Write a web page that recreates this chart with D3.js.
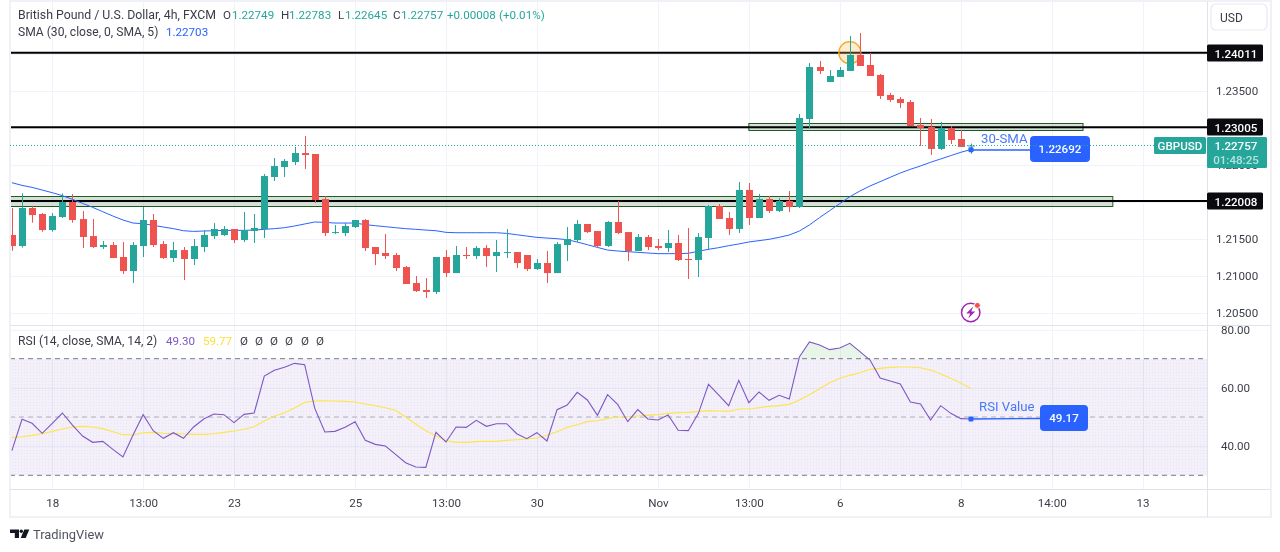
<!DOCTYPE html><html lang="en">
<head>
  <meta charset="UTF-8">
  <title>GBPUSD 4h</title>
  <script src="https://d3js.org/d3.v7.min.js"></script>
  <style>
    body { margin: 0; background: white; }
    svg { display: block; font-family: Roboto, sans-serif; font-size: 11.6px; }
    .axis text { fill: #3a3d47; font-family: Roboto, sans-serif; font-size: 11.6px; }
    .axis .domain, .axis line { display: none; }
  </style>
</head>
<body>
<svg width="1280" height="552"></svg>
<script>
const opens = [1.21547,1.21398,1.21912,1.21831,1.21614,1.21790,1.21993,1.21763,1.21533,1.21385,1.21412,1.21250,1.21060,1.21398,1.21750,1.21425,1.21236,1.21344,1.21223,1.21385,1.21533,1.21547,1.21628,1.21479,1.21601,1.21628,1.22331,1.22466,1.22534,1.22655,1.22642,1.22033,1.21574,1.21574,1.21655,1.21750,1.21385,1.21304,1.21277,1.21114,1.20898,1.20804,1.20777,1.21250,1.21033,1.21277,1.21263,1.21371,1.21263,1.21304,1.21317,1.21277,1.21087,1.21169,1.21033,1.21412,1.21479,1.21696,1.21601,1.21398,1.21723,1.21587,1.21331,1.21520,1.21398,1.21371,1.21439,1.21223,1.21210,1.21507,1.21939,1.21777,1.21629,1.22156,1.21777,1.22034,1.21872,1.22007,1.21926,1.23115,1.23818,1.23615,1.23683,1.23764,1.23980,1.23845,1.23710,1.23440,1.23385,1.23345,1.23034,1.23007,1.22710,1.22994,1.22845,1.22749];
const highs = [1.21912,1.22110,1.21943,1.21844,1.21844,1.22110,1.22101,1.21871,1.21763,1.21466,1.21452,1.21452,1.21452,1.21925,1.21831,1.21466,1.21452,1.21385,1.21493,1.21614,1.21709,1.21669,1.21628,1.21858,1.21831,1.22371,1.22588,1.22574,1.22736,1.22885,1.22642,1.22074,1.21682,1.21709,1.21750,1.21763,1.21385,1.21560,1.21304,1.21128,1.20993,1.20966,1.21250,1.21344,1.21398,1.21385,1.21398,1.21412,1.21479,1.21628,1.21317,1.21277,1.21223,1.21331,1.21452,1.21655,1.21750,1.21696,1.21601,1.21736,1.22006,1.21587,1.21560,1.21547,1.21493,1.21614,1.21547,1.21642,1.21574,1.21953,1.21966,1.21858,1.22264,1.22250,1.22102,1.22075,1.22047,1.22142,1.23183,1.23872,1.23899,1.23777,1.23818,1.24237,1.24277,1.24007,1.23723,1.23467,1.23412,1.23372,1.23129,1.23115,1.23075,1.23021,1.22966,1.22783];
const lows = [1.21335,1.21376,1.21714,1.21592,1.21592,1.21777,1.21714,1.21371,1.21371,1.21358,1.21236,1.21020,1.20898,1.21250,1.21385,1.21223,1.21182,1.20939,1.21141,1.21317,1.21493,1.21533,1.21439,1.21452,1.21439,1.21506,1.22277,1.22331,1.22493,1.22439,1.21979,1.21533,1.21560,1.21533,1.21642,1.21331,1.21141,1.21223,1.21060,1.20885,1.20777,1.20695,1.20750,1.20979,1.21033,1.21223,1.21223,1.21114,1.21047,1.21236,1.21101,1.21060,1.21074,1.20898,1.21033,1.21196,1.21452,1.21574,1.21371,1.21385,1.21560,1.21196,1.21331,1.21344,1.21344,1.21317,1.21196,1.20953,1.20980,1.21345,1.21764,1.21547,1.21574,1.21683,1.21777,1.21845,1.21858,1.21858,1.21912,1.22980,1.23723,1.23615,1.23683,1.23764,1.23831,1.23696,1.23385,1.23345,1.23264,1.23021,1.22750,1.22629,1.22696,1.22777,1.22737,1.22645];
const closes = [1.21398,1.21912,1.21817,1.21614,1.21804,1.21993,1.21750,1.21520,1.21385,1.21412,1.21236,1.21060,1.21412,1.21750,1.21412,1.21236,1.21344,1.21223,1.21398,1.21547,1.21628,1.21628,1.21479,1.21614,1.21642,1.22344,1.22479,1.22547,1.22655,1.22628,1.22020,1.21574,1.21587,1.21669,1.21750,1.21371,1.21290,1.21263,1.21101,1.20885,1.20790,1.20777,1.21250,1.21033,1.21277,1.21263,1.21371,1.21263,1.21317,1.21317,1.21169,1.21087,1.21169,1.21033,1.21425,1.21493,1.21696,1.21587,1.21398,1.21723,1.21574,1.21331,1.21520,1.21385,1.21371,1.21439,1.21209,1.21210,1.21520,1.21939,1.21764,1.21629,1.22156,1.21777,1.22034,1.21872,1.22007,1.21926,1.23129,1.23818,1.23764,1.23696,1.23777,1.23980,1.23831,1.23696,1.23426,1.23372,1.23331,1.23021,1.22994,1.22710,1.22994,1.22831,1.22737,1.22757];
const smaValues = [1.22254,1.22218,1.22191,1.22155,1.22119,1.22079,1.22029,1.21975,1.21921,1.21862,1.21804,1.21750,1.21709,1.21700,1.21678,1.21655,1.21633,1.21605,1.21596,1.21601,1.21605,1.21610,1.21610,1.21610,1.21614,1.21624,1.21633,1.21646,1.21669,1.21696,1.21723,1.21718,1.21709,1.21709,1.21709,1.21687,1.21673,1.21660,1.21646,1.21633,1.21624,1.21614,1.21605,1.21583,1.21578,1.21578,1.21578,1.21578,1.21578,1.21569,1.21551,1.21533,1.21515,1.21506,1.21497,1.21484,1.21452,1.21416,1.21380,1.21344,1.21331,1.21322,1.21313,1.21304,1.21295,1.21295,1.21295,1.21300,1.21327,1.21354,1.21376,1.21403,1.21426,1.21453,1.21471,1.21489,1.21516,1.21547,1.21601,1.21683,1.21782,1.21876,1.21971,1.22065,1.22142,1.22210,1.22268,1.22327,1.22385,1.22435,1.22480,1.22530,1.22575,1.22620,1.22665,1.22703];
const rsiValues = [38.45,49.20,47.83,44.40,47.83,51.37,47.25,43.48,41.31,41.65,38.91,36.28,43.82,50.80,45.31,42.68,44.62,42.68,46.57,49.31,51.03,50.80,48.06,50.91,51.37,64.06,66.01,67.04,68.41,67.95,52.97,44.85,45.08,46.45,48.40,41.99,40.62,40.05,37.19,34.33,32.85,32.73,44.74,41.42,46.57,46.45,48.86,46.80,47.71,47.71,44.28,42.57,44.62,41.77,52.52,54.12,58.46,55.83,50.57,57.66,54.34,48.40,52.52,49.31,48.97,50.69,45.43,45.31,51.26,61.21,57.55,53.89,62.58,54.92,58.58,55.72,57.43,56.17,70.58,75.73,74.70,73.10,73.67,75.27,72.41,69.55,63.38,62.35,61.32,55.15,54.46,48.97,53.89,51.26,49.43,49.30];
const rsiMaValues = [42.91,43.25,43.71,44.28,45.08,45.88,46.57,46.80,46.57,46.00,44.97,43.94,43.82,44.62,44.74,44.40,44.28,44.17,44.05,44.05,44.28,44.74,45.20,45.77,46.68,48.63,50.23,51.49,53.09,55.03,55.49,55.60,55.49,55.37,55.15,54.46,53.89,53.20,52.29,50.00,47.60,45.31,43.60,41.88,41.31,41.31,41.54,41.65,41.65,41.99,42.22,42.45,42.79,43.71,44.97,46.45,47.37,48.40,48.74,49.54,50.00,50.11,50.34,50.57,50.80,51.26,51.49,51.60,51.83,52.17,52.06,51.94,52.74,52.74,53.20,53.66,53.89,54.34,55.83,57.66,59.72,61.78,63.26,64.29,65.21,66.35,66.69,67.04,67.15,67.15,66.92,66.12,64.75,63.26,61.66,59.77];

const tickBars = [4,13,22,34,43,52,64,73,82,94,103,112];
const tickLabels = ["18","13:00","23","25","13:00","30","Nov","13:00","6","8","14:00","13"];
const priceTicks = [1.205,1.21,1.215,1.225,1.235];
const priceGrid = [1.205,1.21,1.215,1.22,1.225,1.23,1.235,1.24];
const rsiTicks = [40,60,80];
const levels = [1.24011,1.23005,1.22008];
const zones = [
  {from:73, to:106.1, top:1.23057, bottom:1.22962},
  {from:-3, to:109.05, top:1.22070, bottom:1.21943}
];

const green = "#26a69a", red = "#ef5350", blue = "#2962ff", ink = "#3a3d47";
const paneLeft = 10, paneRight = 1207, paneTop = 2, priceBottom = 325, rsiBottom = 489, frameBottom = 517, frameRight = 1271;

const x = d3.scaleLinear().domain([0,112]).range([11.9,1142.6]);
const y = d3.scaleLinear().domain([1.205,1.235]).range([312.5,90.5]);
const yRsi = d3.scaleLinear().domain([30,70]).range([475.3,358.7]);
const bars = d3.range(opens.length);
const px = v => Math.round(v);

const svg = d3.select("svg");
const defs = svg.append("defs");
defs.append("clipPath").attr("id","pricePane").append("rect")
  .attr("x",paneLeft+1).attr("y",paneTop).attr("width",paneRight-paneLeft-1).attr("height",priceBottom-paneTop);
defs.append("clipPath").attr("id","rsiPane").append("rect")
  .attr("x",paneLeft+1).attr("y",priceBottom+1).attr("width",paneRight-paneLeft-1).attr("height",rsiBottom-priceBottom-1);
defs.append("clipPath").attr("id","above70").append("rect")
  .attr("x",paneLeft).attr("y",priceBottom).attr("width",paneRight-paneLeft).attr("height",yRsi(70)-priceBottom);
const dots = defs.append("pattern").attr("id","bandDots").attr("width",3).attr("height",3).attr("patternUnits","userSpaceOnUse");
dots.append("rect").attr("width",3).attr("height",3).attr("fill","#f3f0fa");
dots.append("rect").attr("width",1).attr("height",1).attr("fill","#e9e4f5");
const glow = defs.append("linearGradient").attr("id","obFill").attr("x1",0).attr("x2",0).attr("y1",0).attr("y2",1);
glow.append("stop").attr("offset",0).attr("stop-color","#4caf50").attr("stop-opacity",0.14);
glow.append("stop").attr("offset",1).attr("stop-color","#4caf50").attr("stop-opacity",0.02);

// grid
const grid = svg.append("g").attr("stroke","#f0f3fa").attr("fill","none");
grid.selectAll("line.v1").data(tickBars).enter().append("line")
  .attr("x1",d=>px(x(d))+.5).attr("x2",d=>px(x(d))+.5).attr("y1",paneTop).attr("y2",rsiBottom);
grid.selectAll("line.h").data(priceGrid).enter().append("line")
  .attr("x1",paneLeft).attr("x2",paneRight).attr("y1",d=>px(y(d))+.5).attr("y2",d=>px(y(d))+.5);
grid.selectAll("line.r").data(rsiTicks).enter().append("line")
  .attr("x1",paneLeft).attr("x2",paneRight).attr("y1",d=>px(yRsi(d))+.5).attr("y2",d=>px(yRsi(d))+.5);

// rsi band
svg.append("rect").attr("x",paneLeft).attr("width",paneRight-paneLeft)
  .attr("y",yRsi(70)).attr("height",yRsi(30)-yRsi(70))
  .attr("fill","url(#bandDots)").style("mix-blend-mode","multiply");

// price pane
const price = svg.append("g").attr("clip-path","url(#pricePane)");
price.selectAll("rect.zone").data(zones).enter().append("rect")
  .attr("x",d=>x(d.from)).attr("width",d=>x(d.to)-x(d.from))
  .attr("y",d=>px(y(d.top))+.5).attr("height",d=>px(y(d.bottom))-px(y(d.top)))
  .attr("fill","rgba(50,100,55,0.2)").attr("stroke","#1b5e20").attr("stroke-width",1);
price.selectAll("line.level").data(levels).enter().append("line")
  .attr("x1",paneLeft).attr("x2",paneRight).attr("y1",d=>y(d)).attr("y2",d=>y(d))
  .attr("stroke","#000").attr("stroke-width",2);
price.append("circle").attr("cx",x(83)).attr("cy",y(levels[0])).attr("r",11)
  .attr("fill","rgba(255,183,77,0.28)").attr("stroke","#f5a623").attr("stroke-width",1.3);
price.append("path").datum(smaValues)
  .attr("d",d3.line().x((d,i)=>x(i)).y(d=>y(d)))
  .attr("fill","none").attr("stroke",blue).attr("stroke-width",1);

const candle = price.selectAll("g.candle").data(bars).enter().append("g")
  .attr("fill",i=>closes[i]>=opens[i]?green:red);
candle.append("rect")
  .attr("x",i=>px(x(i))).attr("width",1)
  .attr("y",i=>y(highs[i])).attr("height",i=>y(lows[i])-y(highs[i]));
candle.append("rect")
  .attr("x",i=>px(x(i))-3).attr("width",7)
  .attr("y",i=>y(Math.max(opens[i],closes[i])))
  .attr("height",i=>Math.max(1,Math.abs(y(opens[i])-y(closes[i]))));

// rsi pane
const rsiPane = svg.append("g").attr("clip-path","url(#rsiPane)");
rsiPane.append("path").datum(rsiValues).attr("clip-path","url(#above70)")
  .attr("d",d3.area().x((d,i)=>x(i)).y0(yRsi(70)).y1(d=>yRsi(d)))
  .attr("fill","url(#obFill)");
rsiPane.selectAll("line.band").data([70,50,30]).enter().append("line")
  .attr("x1",paneLeft).attr("x2",paneRight).attr("y1",d=>yRsi(d)).attr("y2",d=>yRsi(d))
  .attr("stroke","#787b86").attr("stroke-opacity",d=>d===50?0.55:1)
  .attr("stroke-dasharray","5 4");
rsiPane.append("path").datum(rsiMaValues)
  .attr("d",d3.line().x((d,i)=>x(i)).y(d=>yRsi(d)))
  .attr("fill","none").attr("stroke","#fde54a").attr("stroke-width",1.1);
rsiPane.append("path").datum(rsiValues)
  .attr("d",d3.line().x((d,i)=>x(i)).y(d=>yRsi(d)))
  .attr("fill","none").attr("stroke","#7e57c2").attr("stroke-width",1.1);

// frame
const frame = svg.append("g").attr("fill","none");
frame.append("rect").attr("x",10).attr("y",1).attr("width",frameRight-10).attr("height",frameBottom-1)
  .attr("stroke","#eff1f7").attr("stroke-width",2);
frame.append("line").attr("x1",paneRight+.5).attr("x2",paneRight+.5).attr("y1",1).attr("y2",frameBottom).attr("stroke","#e0e3eb");
frame.append("line").attr("x1",10).attr("x2",frameRight).attr("y1",priceBottom+.5).attr("y2",priceBottom+.5).attr("stroke","#e0e3eb");
frame.append("line").attr("x1",10).attr("x2",frameRight).attr("y1",rsiBottom+.5).attr("y2",rsiBottom+.5).attr("stroke","#e0e3eb");

// axes
const priceAxis = svg.append("g").attr("class","axis").attr("transform",`translate(${paneRight},0)`)
  .call(d3.axisRight(y).tickValues(priceTicks).tickFormat(d3.format(".5f")).tickSize(0).tickPadding(9));
svg.append("g").attr("class","axis").attr("transform",`translate(${paneRight},0)`)
  .call(d3.axisRight(yRsi).tickValues(rsiTicks).tickFormat(d3.format(".2f")).tickSize(0).tickPadding(14));
svg.append("g").attr("class","axis").attr("transform",`translate(0,${rsiBottom})`)
  .call(d3.axisBottom(x).tickValues(tickBars).tickFormat((d,i)=>tickLabels[i]).tickSize(0).tickPadding(8))
  .selectAll("text").attr("y",10).attr("dy","0.71em");
// the 80 label is cut by the pane edge
svg.append("rect").attr("x",paneRight+1).attr("y",priceBottom-6).attr("width",60).attr("height",6.5).attr("fill","#fff");
priceAxis.raise();
svg.append("line").attr("x1",paneRight).attr("x2",frameRight).attr("y1",priceBottom+.5).attr("y2",priceBottom+.5).attr("stroke","#e0e3eb");

function label(text, lx, ly, color, opts) {
  const o = opts || {};
  return svg.append("text").attr("x",lx).attr("y",ly).attr("dy","0.35em")
    .attr("fill",color).attr("text-anchor",o.anchor||"start")
    .attr("font-weight",o.weight||null).style("font-size",o.size||null)
    .text(text);
}

// annotations
const noteBlue = "#2962ff";
const noteEnd = x(95);
svg.append("line").attr("x1",noteEnd).attr("x2",1031).attr("y1",y(1.22692)-.3).attr("y2",y(1.22692)-.3).attr("stroke",noteBlue).attr("stroke-width",1.4);
svg.append("rect").attr("x",noteEnd-2.5).attr("y",y(1.22692)-3).attr("width",5).attr("height",5).attr("rx",1).attr("fill",noteBlue);
svg.append("rect").attr("x",1030).attr("y",136).attr("width",60).attr("height",26).attr("rx",4).attr("fill",noteBlue);
label("1.22692",1060,149,"#fff",{anchor:"middle",weight:500});
label("30-SMA",981,138,"#4a78f5",{size:"13.2px"});

svg.append("line").attr("x1",noteEnd).attr("x2",1041).attr("y1",yRsi(49.3)).attr("y2",yRsi(49.5)).attr("stroke",noteBlue).attr("stroke-width",1.4);
svg.append("rect").attr("x",noteEnd-2.5).attr("y",yRsi(49.3)-2.5).attr("width",5).attr("height",5).attr("rx",1).attr("fill",noteBlue);
svg.append("rect").attr("x",1040).attr("y",405).attr("width",48).attr("height",26).attr("rx",4).attr("fill",noteBlue);
label("49.17",1064,418,"#fff",{anchor:"middle",weight:500});
label("RSI Value",979,406.5,"#4a78f5",{size:"13.2px"});

// last price
svg.append("line").attr("x1",paneLeft).attr("x2",1154).attr("y1",px(y(closes[95]))+.5).attr("y2",px(y(closes[95]))+.5)
  .attr("stroke",green).attr("stroke-dasharray","1 2");

// price tags
const tags = svg.selectAll("g.tag").data(levels).enter().append("g");
tags.append("rect").attr("x",paneRight).attr("width",56).attr("y",d=>px(y(d))-8.5).attr("height",17).attr("rx",1.5).attr("fill","#0b0b0f");
tags.append("text").attr("x",1236).attr("y",d=>px(y(d))+.5).attr("dy","0.35em").attr("text-anchor","middle")
  .attr("fill","#fff").attr("font-weight",500).text(d=>d.toFixed(5));

svg.append("rect").attr("x",paneRight).attr("y",137).attr("width",60).attr("height",31).attr("rx",1.5).attr("fill",green);
label("1.22757",1236,145.5,"#fff",{anchor:"middle",weight:500});
label("01:48:25",1236,160,"#b5e3de",{anchor:"middle",weight:500});
svg.append("rect").attr("x",1154).attr("y",137).attr("width",52).attr("height",17).attr("rx",1.5).attr("fill",green);
label("GBPUSD",1180,145.5,"#fff",{anchor:"middle",weight:500});

// currency button
svg.append("rect").attr("x",1211).attr("y",4).attr("width",56).attr("height",26).attr("rx",5)
  .attr("fill","#fff").attr("stroke","#e8eaf2").attr("stroke-width",1.2);
label("USD",1220,17.5,ink,{size:"12px"});

// legends
label("British Pound / U.S. Dollar, 4h, FXCM",18,15,ink,{size:"12.3px"});
[["O",223,ink],["1.22749",232,green],["H",281,ink],["1.22783",289,green],["L",338,ink],["1.22645",345,green],["C",393,ink],["1.22757",401,green],["+0.00008",447,green],["(+0.01%)",499,green]]
  .forEach(d=>label(d[0],d[1],15,d[2]));
label("SMA (30, close, 0, SMA, 5)",18,32,ink,{size:"12.1px"});
label("1.22703",166,32,blue);
label("RSI (14, close, SMA, 14, 2)",18,340.5,ink,{size:"12.1px"});
label("49.30",166,340.5,"#7e57c2");
label("59.77",203,340.5,"#fde03a");
[244,259,274,289,305,320].forEach(lx=>label("Ø",lx,340.5,ink,{anchor:"middle"}));

// bolt badge
const badge = svg.append("g").attr("transform","translate(970.7,312.5)");
badge.append("circle").attr("r",9.2).attr("fill","#fff").attr("stroke","#9c27b0").attr("stroke-width",1.5);
badge.append("path").attr("d","M2.5-6L-4.5 1H-.5L-2.5 6L4.5-1H.5Z").attr("fill","#9c27b0");
svg.append("circle").attr("cx",977.4).attr("cy",305.4).attr("r",3).attr("fill","#ef5350").attr("stroke","#fff");

// logo
svg.append("path").attr("d","M10 529.5h9v8.5h-4.2v-5h-4.8z").attr("fill","#131722");
svg.append("circle").attr("cx",21.3).attr("cy",531.2).attr("r",1.7).attr("fill","#131722");
svg.append("path").attr("d","M24.3 529.5h5l-3.6 8.5h-5z").attr("fill","#131722");
label("TradingView",33,534,"#50535e",{size:"12.9px"});
</script>
</body>
</html>
